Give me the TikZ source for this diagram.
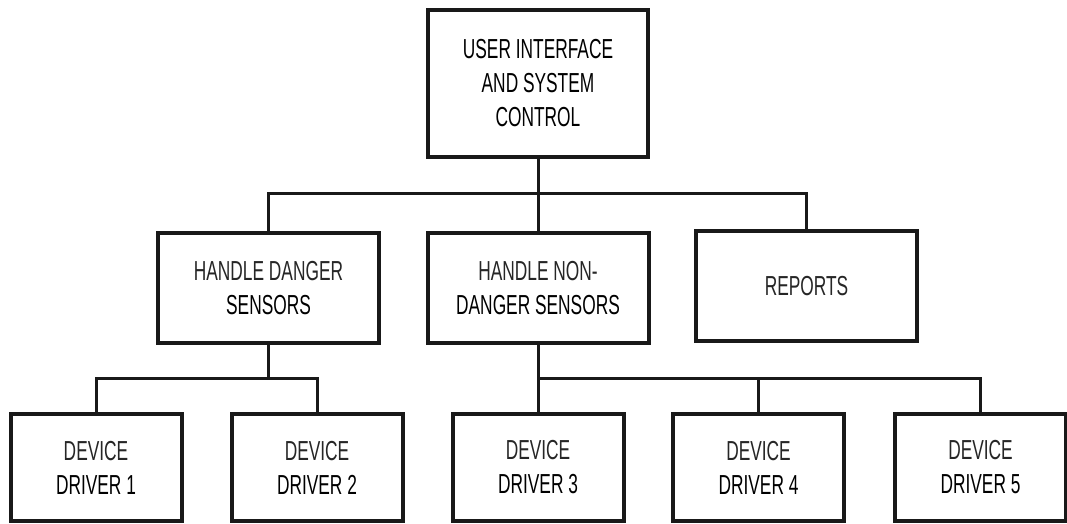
\documentclass[tikz,border=0pt]{standalone}
\usepackage{fontspec}
\setmainfont[FakeStretch=0.63]{Liberation Sans}
\begin{document}
\begin{tikzpicture}[x=1pt,y=-1pt,
  box/.style={draw=black!90, line width=4pt, fill=white, rectangle,
    align=center, inner sep=0pt, font=\fontsize{27.5}{34}\selectfont},
  topbox/.style={box, minimum width=220pt, minimum height=147pt},
  midbox/.style={box, minimum width=221pt, minimum height=110pt},
  drvbox/.style={box, minimum width=171pt, minimum height=107pt},
  link/.style={draw=black!90, line width=3pt}]
\useasboundingbox[fill=white] (0,0) rectangle (1067,524);

% bus levels
\coordinate (busA) at (0,193);
\coordinate (busB) at (0,378);

% top level
\node[topbox] (ui) at (538,83.5) {USER INTERFACE\\AND SYSTEM\\CONTROL};

% middle level
\node[midbox] (hd)  at (268.5,288) {{\color{black!85}HANDLE DANGER}\\SENSORS};
\node[midbox] (hnd) at (538,288)   {{\color{black!85}HANDLE NON-}\\DANGER SENSORS};
\node[midbox] (rep) at (806.5,286) {\color{black!85}REPORTS};

% device drivers
\node[drvbox] (d1) at (96,467.5)    {{\color{black!85}DEVICE}\\DRIVER 1};
\node[drvbox] (d2) at (317,467.5)   {{\color{black!85}DEVICE}\\DRIVER 2};
\node[drvbox] (d3) at (538,467.5)   {{\color{black!85}DEVICE}\\DRIVER 3};
\node[drvbox] (d4) at (758.5,467.5) {{\color{black!85}DEVICE}\\DRIVER 4};
\node[drvbox] (d5) at (980.5,467.5) {{\color{black!85}DEVICE}\\DRIVER 5};

% connectors, top to middle
\draw[link] (ui.south) -- (hnd.north);
\draw[link] (hd.north) -- (hd.north |- busA) -- (rep.north |- busA) -- (rep.north);

% connectors, middle to drivers
\draw[link] (hd.south) -- (hd.south |- busB);
\draw[link] (d1.north) -- (d1.north |- busB) -- (d2.north |- busB) -- (d2.north);
\draw[link] (hnd.south) -- (d3.north);
\draw[link] (d3.north |- busB) -- (d5.north |- busB) -- (d5.north);
\draw[link] (d4.north |- busB) -- (d4.north);
\end{tikzpicture}
\end{document}
